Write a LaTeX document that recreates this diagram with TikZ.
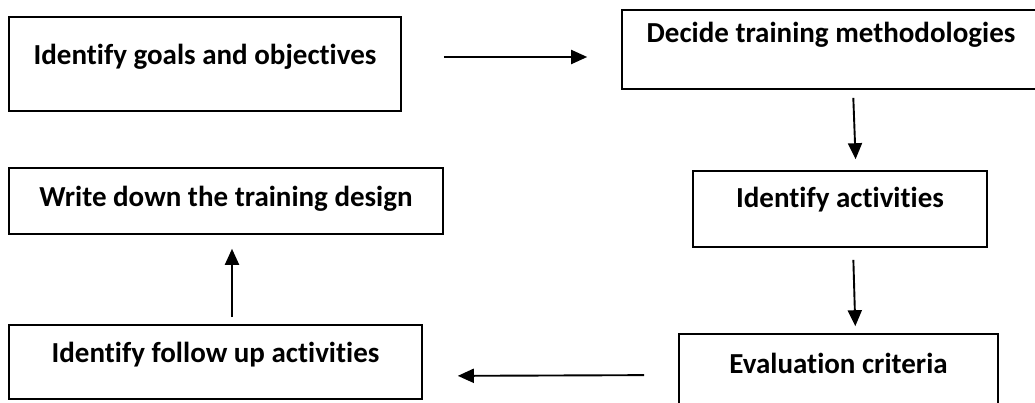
\documentclass[tikz,border=0pt]{standalone}
\usepackage{fontspec}
\setmainfont{Carlito}[Ligatures={NoCommon}]
\usepackage{tikz}
\usetikzlibrary{calc}
\usetikzlibrary{arrows.meta}
\newcommand{\stagefont}{\fontsize{29}{34}\selectfont\bfseries}
\tikzset{
    common/.style={draw, rectangle, line width=1.6pt, inner sep=0pt, font=\stagefont},
    stage/.style={common, text height=16pt, text depth=#1},
    flow/.style={-{Triangle[length=16pt, width=14pt]}, line width=1.9pt}
}

\begin{document}
\begin{tikzpicture}[x=1pt, y=-1pt]
                \useasboundingbox (0,0) rectangle (1035,403);

                \node[stage=14pt, minimum width=392pt, minimum height=94pt] (goals) at (205,64) {Identify goals and objectives};
                \node[stage=29pt, minimum width=418pt, minimum height=79pt] (methods) at (831,49.5) {Decide training methodologies};
                \node[stage=18pt, minimum width=294pt, minimum height=76pt] (acts) at (840,209) {Identify activities};
                \node[stage=16pt, minimum width=319pt, minimum height=78pt] (eval) at (838.5,373) {Evaluation criteria};
                \node[stage=16pt, minimum width=413pt, minimum height=74pt] (follow) at (215.5,362) {Identify follow up activities};
                \node[stage=4pt, minimum width=434pt, minimum height=66pt] (write) at (226,201) {Write down the training design};

                \draw[flow, shorten <=42pt, shorten >=34pt] ($(goals.east)+(0,-7)$) -- ($(goals.east -| methods.west)+(0,-7)$);
                \draw[flow, shorten <=8pt, shorten >=11pt] ($(methods.south)+(22,0)$) -- ($(acts.north)+(16,0)$);
                \draw[flow, shorten <=12pt, shorten >=7pt] ($(acts.south)+(13,0)$) -- ($(eval.north)+(17,0)$);
                \draw[flow, shorten <=34pt, shorten >=35pt] ($(eval.west)+(0,2)$) -- ($(eval.west -| follow.east)+(0,3)$);
                \draw[flow, shorten <=7pt, shorten >=14pt] ($(follow.north)+(16.5,0)$) -- ($(write.south)+(6,0)$);

            \end{tikzpicture}
\end{document}
